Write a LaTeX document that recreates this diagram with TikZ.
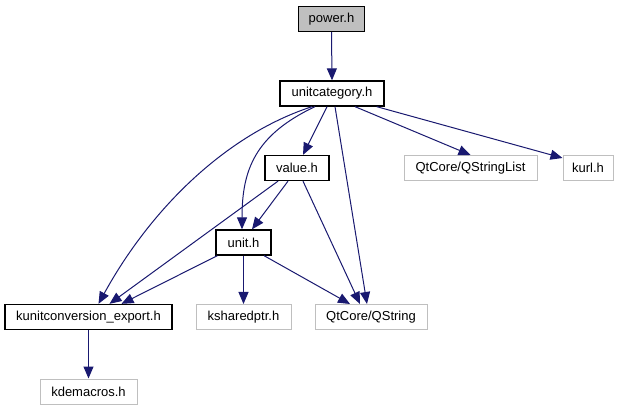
\documentclass[tikz,border=0pt]{standalone}
\usepackage{fontspec}
\setmainfont{Liberation Sans}
\usetikzlibrary{arrows.meta,calc}
\definecolor{edgeblue}{HTML}{191970}
\definecolor{extgray}{HTML}{BFBFBF}
\begin{document}
\begin{tikzpicture}[x=1pt,y=-1pt,
  every node/.style={font=\fontsize{13}{15}\selectfont, inner sep=0pt, minimum height=25pt, anchor=center},
  mainbox/.style={draw=black, line width=1.3pt, fill=white},
  rootbox/.style={draw=black, line width=1.3pt, fill=extgray},
  extbox/.style={draw=extgray, line width=1pt, fill=white},
  dep/.style={draw=edgeblue, line width=1pt, -{Triangle[length=12pt,width=10pt]}, fill=none},
]
\useasboundingbox (0,0) rectangle (623,411);
\fill[white] (0,0) rectangle (623,411);

\node[rootbox, minimum width=66pt] (power) at (331.5,19) {power.h};
\node[mainbox, minimum width=104pt] (ucat) at (332,93.5) {unitcategory.h};
\node[mainbox, minimum width=64pt] (value) at (297,168) {value.h};
\node[extbox, minimum width=133pt] (qsl) at (470.5,168) {QtCore/QStringList};
\node[extbox, minimum width=50pt] (kurl) at (588,168) {kurl.h};
\node[mainbox, minimum width=55pt] (unit) at (243.5,242.5) {unit.h};
\node[mainbox, minimum width=167pt] (kexp) at (88.5,317) {kunitconversion\_export.h};
\node[extbox, minimum width=95pt] (ksp) at (243.5,317) {ksharedptr.h};
\node[extbox, minimum width=112pt] (qs) at (371,317) {QtCore/QString};
\node[extbox, minimum width=97pt] (kdm) at (88.5,391.5) {kdemacros.h};

\draw[dep] (power.south) -- (ucat.north);
\draw[dep] ($(ucat.south)+(-5,0)$) -- ($(value.north)+(6,0)$);
\draw[dep] ($(ucat.south)+(3,0)$) -- ($(qs.north)+(-4,0)$);
\draw[dep] ($(ucat.south)+(23,0)$) -- (qsl.north);
\draw[dep] ($(ucat.south east)+(-8,0)$) -- ($(kurl.north west)+(0,3)$);
\draw[dep] ($(ucat.south)+(-20,0)$) .. controls (225,135) and (150,210) .. ($(kexp.north)+(10,0)$);
\draw[dep] ($(ucat.south)+(-17,0)$) .. controls (255,135) and (242,170) .. ($(unit.north)+(-1.5,0)$);
\draw[dep] ($(value.south)+(-19,0)$) -- ($(kexp.north)+(21,0)$);
\draw[dep] ($(value.south)+(-9,0)$) -- ($(unit.north)+(8.5,0)$);
\draw[dep] ($(value.south)+(6,0)$) -- ($(qs.north)+(-11,0)$);
\draw[dep] ($(unit.south west)+(2,0)$) -- ($(kexp.north)+(33,0)$);
\draw[dep] (unit.south) -- (ksp.north);
\draw[dep] ($(unit.south)+(20.5,0)$) -- ($(qs.north)+(-21,0)$);
\draw[dep] (kexp.south) -- (kdm.north);
\end{tikzpicture}
\end{document}
